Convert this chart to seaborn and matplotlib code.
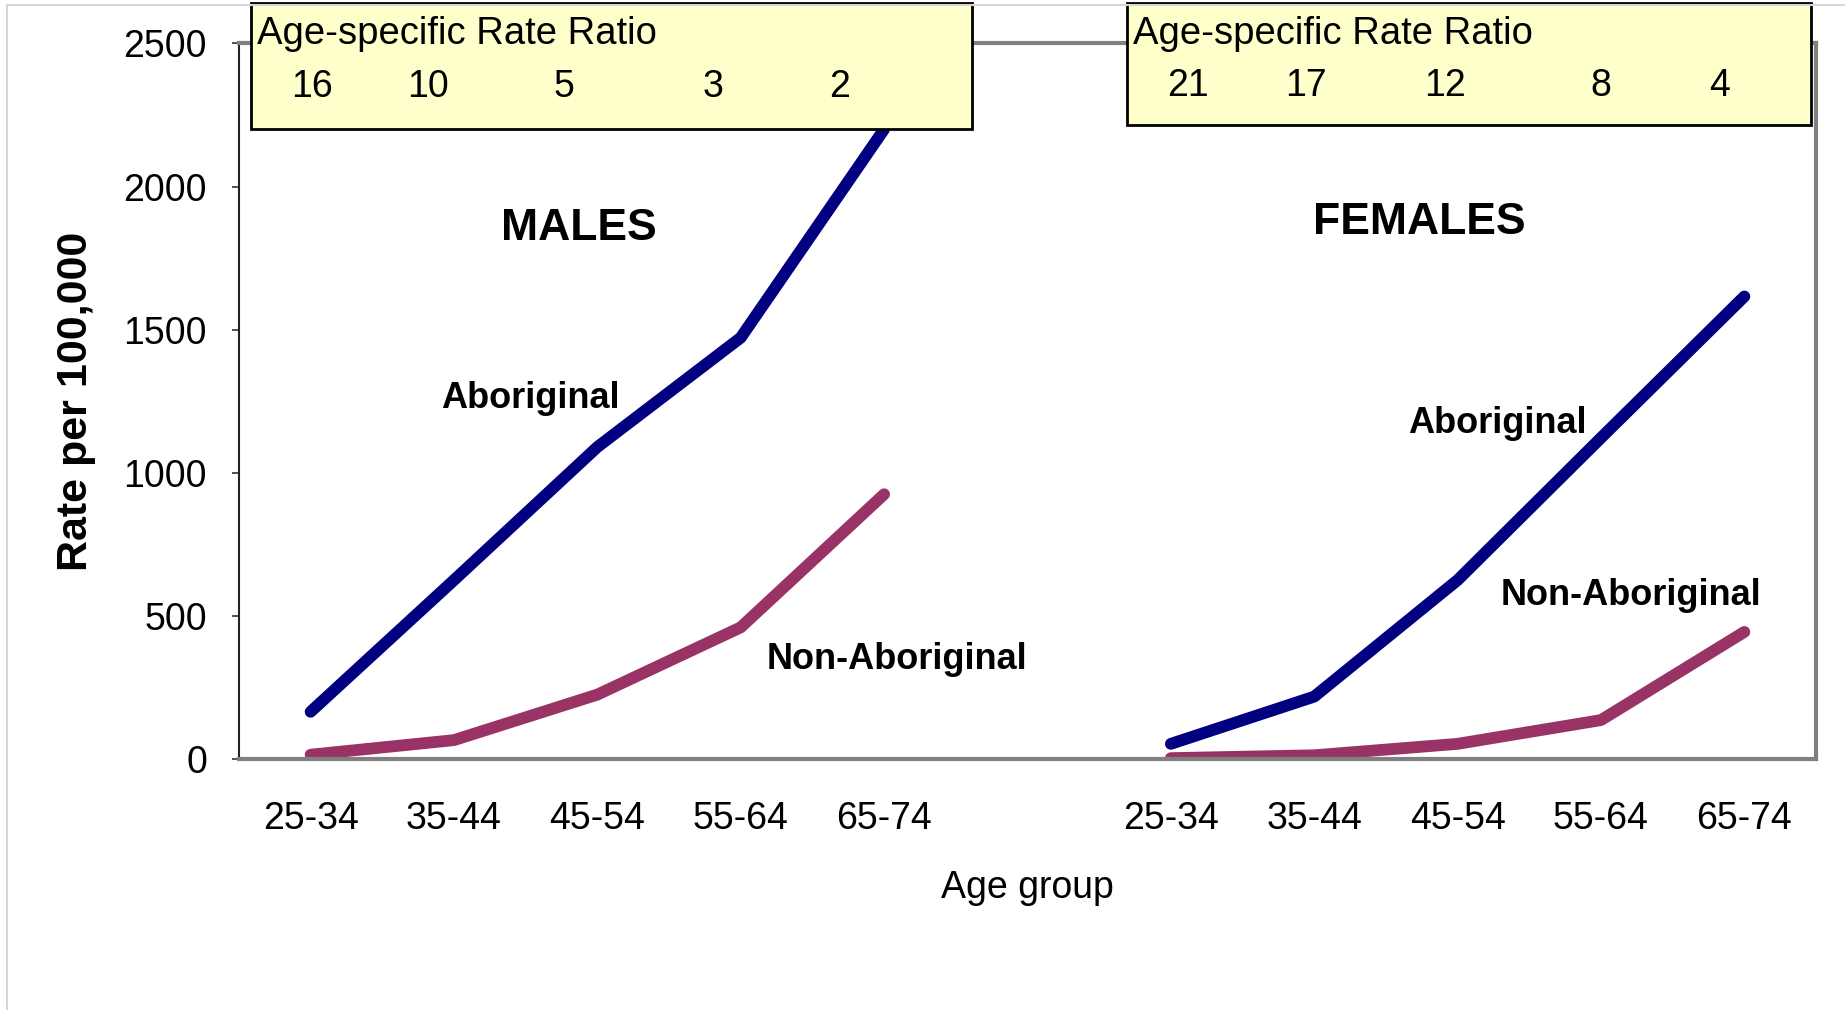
import pandas as pd
import seaborn as sns
import matplotlib.pyplot as plt
from matplotlib.patches import Rectangle

#%% data

age_groups = ["25-34", "35-44", "45-54", "55-64", "65-74"]
male_abor = [165, 625, 1090, 1472, 2200]
male_non = [15, 66, 225, 460, 925]
female_abor = [53, 218, 625, 1122, 1616]
female_non = [3, 13, 53, 136, 444]
male_ratio = ["16", "10", "5", "3", "2"]
female_ratio = ["21", "17", "12", "8", "4"]

# category slots: males left, one empty slot, females right
male_pos = [0, 1, 2, 3, 4]
female_pos = [6, 7, 8, 9, 10]
# where the ratio numbers sit inside the boxes (x in category units)
male_ratio_x = [0.01, 0.82, 1.77, 2.81, 3.69]
female_ratio_x = [6.12, 6.94, 7.91, 9.0, 9.83]

rows = []
for sex, pos, abor, non in [("Males", male_pos, male_abor, male_non),
                            ("Females", female_pos, female_abor, female_non)]:
    for p, a, n in zip(pos, abor, non):
        rows.append({"sex": sex, "pos": p, "group": "Aboriginal", "rate": a})
        rows.append({"sex": sex, "pos": p, "group": "Non-Aboriginal", "rate": n})
df = pd.DataFrame(rows)

#%% plot

sns.set_style("ticks")
plt.rcParams["font.family"] = ["Liberation Sans", "DejaVu Sans"]
# seaborn greys the text, the original is plain black
for key in ["text.color", "axes.labelcolor", "xtick.color", "ytick.color"]:
    plt.rcParams[key] = "black"

fig = plt.figure(figsize=(18.45, 10.10), dpi=100)
ax = fig.add_axes([0.1295, 0.2485, 0.8548, 0.7085])

sns.lineplot(data=df, x="pos", y="rate", hue="group", units="sex",
             estimator=None, palette={"Aboriginal": "#000080",
                                      "Non-Aboriginal": "#993366"},
             linewidth=8.5, solid_capstyle="round", legend=False, ax=ax)

ax.set_xlim(-0.5, 10.5)
ax.set_ylim(0, 2500)
ax.set_yticks(range(0, 2501, 500))
ax.set_xticks(male_pos + female_pos)
ax.set_xticklabels(age_groups + age_groups)
ax.tick_params(axis="x", length=0, pad=30, labelsize=27)
ax.tick_params(axis="y", length=5, width=1.2, color="#333333",
               pad=18, labelsize=27, direction="out")
ax.set_xlabel("Age group", fontsize=27, labelpad=24)
ax.set_ylabel("Rate per 100,000", fontsize=31, fontweight="bold", labelpad=20)

for side in ["top", "right", "bottom"]:
    ax.spines[side].set_color("#808080")
    ax.spines[side].set_linewidth(3)
ax.spines["left"].set_color("#222222")
ax.spines["left"].set_linewidth(1.5)

# panel titles and series labels
ax.text(1.87, 1855, "MALES", fontsize=32, fontweight="bold", ha="center", va="center")
ax.text(7.73, 1875, "FEMALES", fontsize=32, fontweight="bold", ha="center", va="center")
ax.text(1.53, 1258, "Aboriginal", fontsize=26, fontweight="bold", ha="center", va="center")
ax.text(4.09, 346, "Non-Aboriginal", fontsize=26, fontweight="bold", ha="center", va="center")
ax.text(8.28, 1172, "Aboriginal", fontsize=26, fontweight="bold", ha="center", va="center")
ax.text(9.21, 572, "Non-Aboriginal", fontsize=26, fontweight="bold", ha="center", va="center")

# rate ratio boxes
for x0, x1, y0 in [(0.0074, 0.465, 0.880), (0.563, 0.9965, 0.8865)]:
    ax.add_patch(Rectangle((x0, y0), x1 - x0, 1.056 - y0, transform=ax.transAxes,
                           facecolor="#FFFFCC", edgecolor="black", linewidth=2,
                           zorder=5, clip_on=False))
    ax.text(x0 + 0.004, 1.013, "Age-specific Rate Ratio", transform=ax.transAxes,
            fontsize=27.5, ha="left", va="center", zorder=6)

xt = ax.get_xaxis_transform()
for xs, labels, yy in [(male_ratio_x, male_ratio, 0.939),
                       (female_ratio_x, female_ratio, 0.941)]:
    for x, lab in zip(xs, labels):
        ax.text(x, yy, lab, transform=xt, fontsize=27, ha="center",
                va="center", zorder=6)

# faint chart-area border
fig.add_artist(plt.Line2D([0.004, 0.004], [0.0, 0.995], transform=fig.transFigure,
                          color="#d6d6d6", linewidth=1.5))
fig.add_artist(plt.Line2D([0.004, 1.0], [0.995, 0.995], transform=fig.transFigure,
                          color="#d6d6d6", linewidth=1.5))

plt.savefig("out.png", dpi=100)
plt.close()
